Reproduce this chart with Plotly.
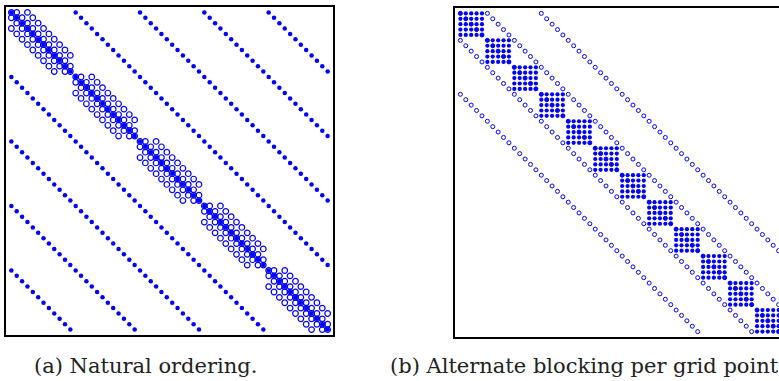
import plotly.graph_objects as go

# Structure of the Jacobian: 5 variables on 12 grid points
N_VARS = 5
N_POINTS = 12
# grid-point coupling of a single variable (hollow markers)
STENCIL_OFFSETS = [0, -1, 1, -3, 3]
# all variables at the same grid point are coupled (filled markers)
COUPLED_VARS = list(range(N_VARS))

CAPTIONS = ["(a) Natural ordering.", "(b) Alternate blocking per grid point."]

N = N_VARS * N_POINTS


def natural(v, p):
    return v * N_POINTS + p + 1


def blocked(v, p):
    return p * N_VARS + v + 1


def patterns(index):
    hr, hc, fr, fc = [], [], [], []
    for v in range(N_VARS):
        for p in range(N_POINTS):
            for s in STENCIL_OFFSETS:
                q = p + s
                if 0 <= q < N_POINTS:
                    hr.append(index(v, p))
                    hc.append(index(v, q))
            for w in COUPLED_VARS:
                fr.append(index(v, p))
                fc.append(index(w, p))
    return hr, hc, fr, fc


W, H = 779, 381
BLUE = "#0000ff"

fig = go.Figure()

panels = [
    dict(index=natural, x0=6, x1=333, y0=7, y1=335, hsize=5.6, hw=1.2, fsize=4.5, xaxis="x", yaxis="y"),
    dict(index=blocked, x0=455, x1=779, y0=8, y1=337, hsize=4.0, hw=1.0, fsize=4.2, xaxis="x2", yaxis="y2"),
]

for pn in panels:
    hr, hc, fr, fc = patterns(pn["index"])
    fig.add_trace(go.Scatter(
        x=hc, y=hr, mode="markers", xaxis=pn["xaxis"], yaxis=pn["yaxis"],
        marker=dict(symbol="circle-open", size=pn["hsize"], color=BLUE,
                    line=dict(width=pn["hw"], color=BLUE)),
        showlegend=False, hoverinfo="skip"))
    fig.add_trace(go.Scatter(
        x=fc, y=fr, mode="markers", xaxis=pn["xaxis"], yaxis=pn["yaxis"],
        marker=dict(symbol="circle", size=pn["fsize"], color=BLUE, line=dict(width=0)),
        showlegend=False, hoverinfo="skip"))

axcommon = dict(showgrid=False, zeroline=False, showticklabels=False, ticks="",
                showline=True, linecolor="black", linewidth=1.5)

p = panels[0]
fig.update_layout(
    xaxis=dict(domain=[p["x0"] / W, p["x1"] / W], range=[0, N + 1], mirror=True, **axcommon),
    yaxis=dict(domain=[1 - p["y1"] / H, 1 - p["y0"] / H], range=[N + 1, 0], mirror=True, **axcommon),
)
p = panels[1]
cell = (p["y1"] - p["y0"]) / (N + 1)
fig.update_layout(
    xaxis2=dict(domain=[p["x0"] / W, 1.0], range=[0, (p["x1"] - p["x0"]) / cell], mirror=True,
                anchor="y2", **axcommon),
    yaxis2=dict(domain=[1 - p["y1"] / H, 1 - p["y0"] / H], range=[N + 1, 0], mirror=False,
                anchor="x2", **axcommon),
)

fig.add_annotation(text=CAPTIONS[0], x=32 / W, y=1 - 366 / H, xref="paper", yref="paper",
                   xanchor="left", yanchor="middle", showarrow=False,
                   font=dict(family="DejaVu Serif", size=21, color="#222222"))
fig.add_annotation(text=CAPTIONS[1], x=388 / W, y=1 - 366 / H, xref="paper", yref="paper",
                   xanchor="left", yanchor="middle", showarrow=False,
                   font=dict(family="DejaVu Serif", size=21, color="#222222"))

fig.update_layout(width=W, height=H, margin=dict(l=0, r=0, t=0, b=0),
                  paper_bgcolor="white", plot_bgcolor="white")

fig.write_html("out.html", config={"displayModeBar": False},
               post_script="document.body.style.margin='0';document.body.style.overflow='hidden';")
